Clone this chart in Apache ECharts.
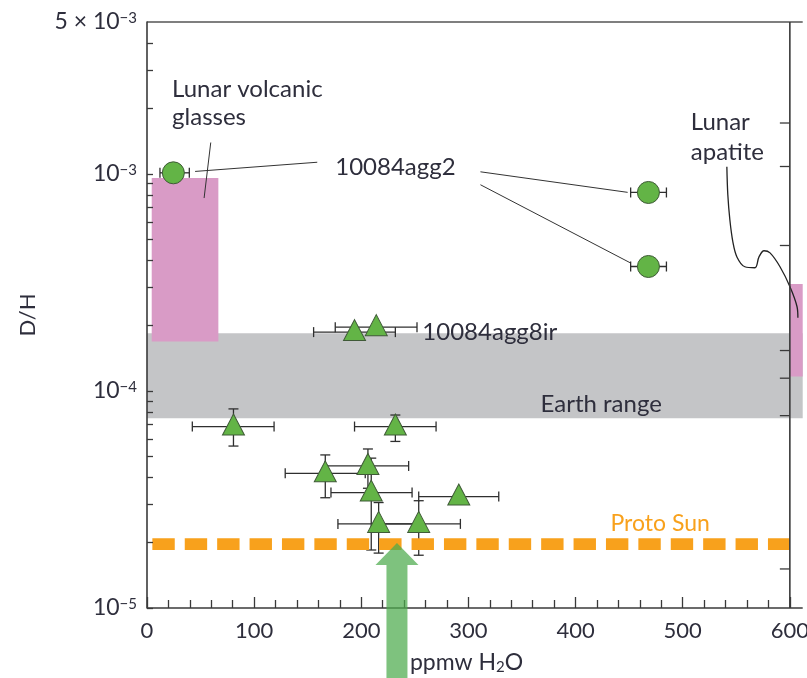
<!DOCTYPE html>
<html>
<head>
<meta charset="utf-8">
<script src="https://cdn.jsdelivr.net/npm/echarts@6/dist/echarts.min.js"></script>
<style>
  html, body { margin: 0; padding: 0; background: #ffffff; }
  #chart { width: 807px; height: 678px; }
</style>
</head>
<body>
<div id="chart"></div>
<script>
// ---------- axes ----------
const xMajorTicks = [0, 100, 200, 300, 400, 500, 600];
const panelEdgeX = 612;          // right edge of this panel
const panelDividerX = 600;       // boundary with the neighbouring panel
const yMin = 1e-5;
const yMax = 5e-3;
const yTickValues = [1e-5, 2e-5, 3e-5, 4e-5, 5e-5, 6e-5, 7e-5, 8e-5, 9e-5,
                     1e-4, 2e-4, 3e-4, 4e-4, 5e-4, 6e-4, 7e-4, 8e-4, 9e-4,
                     1e-3, 2e-3, 3e-3, 4e-3];
const yLabelValues = [1e-5, 1e-4, 1e-3, 5e-3];
const dividerTicks = [1.713e-3, 1.080e-3, 4.673e-4, 1.534e-4, 1.144e-4, 7.69e-5, 1.513e-5];

// ---------- 10084agg2 (circles) ----------
const aggX = [24.6, 468, 468];
const aggY = [1.01e-3, 8.2e-4, 3.74e-4];
const aggXLow = [12.1, 451.4, 451.4];
const aggXHigh = [39.5, 484.8, 484.8];

// ---------- 10084agg8ir (triangles) ----------
const triX = [193.7, 214, 80.7, 231.8, 166.4, 206.2, 209.3, 291, 216.2, 253.6];
const triY = [1.865e-4, 1.966e-4, 6.85e-5, 6.85e-5, 4.17e-5, 4.51e-5, 3.40e-5, 3.26e-5, 2.44e-5, 2.44e-5];
const triXLow = [155.5, 175.7, 42.3, 193.7, 129, 166.4, 171.7, 253.6, 178.2, 214.7];
const triXHigh = [231.8, 252, 118.6, 269.8, 203.7, 244.2, 247.4, 328.3, 254.2, 292.5];
const triYLow = [1.72e-4, null, 5.57e-5, 5.85e-5, 3.22e-5, 3.56e-5, 1.85e-5, null, 1.79e-5, 1.75e-5];
const triYHigh = [null, null, 8.26e-5, 7.74e-5, 5.07e-5, 5.40e-5, 4.90e-5, null, 3.06e-5, 3.12e-5];

// ---------- reference ranges ----------
const earthRangeY = [7.48e-5, 1.845e-4];
const glassRangeX = [4.4, 66.6];
const glassRangeY = [1.69e-4, 9.55e-4];
const apatiteRangeX = [600, 612];
const apatiteRangeY = [1.164e-4, 3.11e-4];
const protoSunDH = 1.97e-5;
const protoSunX = [5, 600];
const bulkWaterX = 233.3;
const bulkWaterDH = 1.99e-5;

// ---------- annotations ----------
const noteText = ['Lunar volcanic', 'glasses', '10084agg2', '10084agg8ir', 'Earth range', 'Lunar', 'apatite'];
const noteX = [23.4, 23.4, 175.7, 257, 367.3, 507.5, 507.5];
const noteY = [2.438e-3, 1.812e-3, 1.066e-3, 1.87e-4, 8.71e-5, 1.718e-3, 1.25e-3];
const protoSunLabel = 'Proto Sun';
const protoSunLabelAt = [432.6, 2.46e-5];
// leader segments: [x1, y1, x2, y2]
const leaders = [
  [59.5, 1.393e-3, 53.3, 7.73e-4],
  [44.9, 1.025e-3, 158.9, 1.13e-3],
  [311.2, 1.021e-3, 448.6, 8.21e-4],
  [311.2, 8.90e-4, 451, 3.89e-4]
];
const apatiteCurveX = [541.2, 542.1, 544.0, 546.8, 550.6, 558.0, 567.4, 571.2, 575.9, 581.5, 590.8, 600.2, 606.7, 607.5];
const apatiteCurveY = [1.077e-3, 8.00e-4, 6.14e-4, 4.86e-4, 4.14e-4, 3.73e-4, 3.69e-4, 4.14e-4, 4.42e-4, 4.32e-4, 3.73e-4, 3.01e-4, 2.44e-4, 2.17e-4];

// ---------- styling ----------
const FONT = 'Lato';
const INK = '#2e2e3c';
const AXIS = '#3a3a3a';
const GREEN = '#63b446';
const MARKER_EDGE = '#3f5a37';
const PINK = '#d99bc6';
const GREY = '#c4c5c7';
const ORANGE = '#f8a11c';

const chart = echarts.init(document.getElementById('chart'), null, { renderer: 'canvas' });

function zip2(a, b) { return a.map((v, i) => [v, b[i]]); }

function supLabel(v) {
  if (Math.abs(v - 5e-3) < 1e-9) return '{b|5 × 10}{s|−3}';
  const e = Math.round(Math.log10(v));
  return '{b|10}{s|−' + Math.abs(e) + '}';
}

function rectItem(x0, x1, y0, y1, color) {
  return function (params, api) {
    const a = api.coord([x0, y1]);
    const b = api.coord([x1, y0]);
    return { type: 'rect', shape: { x: a[0], y: a[1], width: b[0] - a[0], height: b[1] - a[1] },
             style: { fill: color } };
  };
}

function errorBars(params, api) {
  const x = api.value(0), y = api.value(1);
  const xl = api.value(2), xh = api.value(3), yl = api.value(4), yh = api.value(5);
  const cap = 5;
  const st = { stroke: '#2f2f2f', lineWidth: 1.3 };
  const kids = [];
  const c = api.coord([x, y]);
  if (isFinite(xl) && isFinite(xh)) {
    const a = api.coord([xl, y]), b = api.coord([xh, y]);
    kids.push({ type: 'line', shape: { x1: a[0], y1: a[1], x2: b[0], y2: b[1] }, style: st });
    kids.push({ type: 'line', shape: { x1: a[0], y1: a[1] - cap, x2: a[0], y2: a[1] + cap }, style: st });
    kids.push({ type: 'line', shape: { x1: b[0], y1: b[1] - cap, x2: b[0], y2: b[1] + cap }, style: st });
  }
  if (isFinite(yl)) {
    const a = api.coord([x, yl]);
    kids.push({ type: 'line', shape: { x1: c[0], y1: c[1], x2: a[0], y2: a[1] }, style: st });
    kids.push({ type: 'line', shape: { x1: a[0] - cap, y1: a[1], x2: a[0] + cap, y2: a[1] }, style: st });
  }
  if (isFinite(yh)) {
    const a = api.coord([x, yh]);
    kids.push({ type: 'line', shape: { x1: c[0], y1: c[1], x2: a[0], y2: a[1] }, style: st });
    kids.push({ type: 'line', shape: { x1: a[0] - cap, y1: a[1], x2: a[0] + cap, y2: a[1] }, style: st });
  }
  return { type: 'group', children: kids };
}

const aggErr = aggX.map((x, i) => [x, aggY[i], aggXLow[i], aggXHigh[i], null, null]);
const triErr = triX.map((x, i) => [x, triY[i], triXLow[i], triXHigh[i], triYLow[i], triYHigh[i]]);

const option = {
  animation: false,
  backgroundColor: '#ffffff',
  grid: { left: 147, right: -90, top: 22, bottom: 70, outerBoundsMode: 'none', containLabel: false },
  xAxis: {
    type: 'value', min: 0, max: 700, interval: 100,
    axisLine: { show: false },
    axisTick: { show: true, inside: true, length: 11, lineStyle: { color: AXIS, width: 1.3 } },
    minorTick: { show: true, splitNumber: 5, length: 8, lineStyle: { color: AXIS, width: 1.3 } },
    splitLine: { show: false },
    axisLabel: { fontFamily: FONT, fontSize: 22, color: INK, margin: 12,
                 formatter: v => (xMajorTicks.indexOf(v) >= 0 ? String(v) : '') },
    z: 5
  },
  yAxis: {
    type: 'log', logBase: 10, min: yMin, max: yMax,
    axisLine: { show: true, lineStyle: { color: AXIS, width: 1.6 } },
    axisTick: { show: true, inside: true, length: 6, customValues: yTickValues,
                lineStyle: { color: AXIS, width: 1.3 } },
    splitLine: { show: false },
    axisLabel: {
      customValues: yLabelValues, margin: 10, formatter: supLabel,
      rich: {
        b: { fontFamily: FONT, fontSize: 23, color: INK },
        s: { fontFamily: FONT, fontSize: 15, color: INK, verticalAlign: 'top' }
      }
    },
    name: 'D/H', nameLocation: 'middle', nameGap: 108,
    nameTextStyle: { fontFamily: FONT, fontSize: 22, color: INK },
    z: 5
  },
  series: [
    // Earth range band
    { type: 'custom', z: 1, silent: true, clip: false, data: [[0, earthRangeY[0]]],
      renderItem: rectItem(0, panelEdgeX, earthRangeY[0], earthRangeY[1], GREY) },
    // lunar volcanic glass range
    { type: 'custom', z: 1.5, silent: true, data: [[glassRangeX[0], glassRangeY[0]]],
      renderItem: rectItem(glassRangeX[0], glassRangeX[1], glassRangeY[0], glassRangeY[1], PINK) },
    // lunar apatite range
    { type: 'custom', z: 1.5, silent: true, clip: false, data: [[apatiteRangeX[0], apatiteRangeY[0]]],
      renderItem: rectItem(apatiteRangeX[0], apatiteRangeX[1], apatiteRangeY[0], apatiteRangeY[1], PINK) },
    // frame: bottom and top edges, divider to next panel
    { type: 'line', z: 4, silent: true, symbol: 'none', clip: false,
      data: [[0, yMin], [panelEdgeX, yMin]], lineStyle: { color: AXIS, width: 1.6 } },
    { type: 'line', z: 4, silent: true, symbol: 'none', clip: false,
      data: [[0, yMax], [panelEdgeX, yMax]], lineStyle: { color: '#555555', width: 1.4 } },
    { type: 'line', z: 4, silent: true, symbol: 'none', clip: false,
      data: [[panelDividerX, yMin], [panelDividerX, yMax]], lineStyle: { color: AXIS, width: 1.6 } },
    { type: 'custom', z: 4, silent: true, clip: false,
      data: dividerTicks.map(v => [panelDividerX, v]),
      renderItem: (p, api) => {
        const c = api.coord([api.value(0), api.value(1)]);
        return { type: 'line', shape: { x1: c[0] - 10, y1: c[1], x2: c[0], y2: c[1] },
                 style: { stroke: AXIS, lineWidth: 1.3 } };
      } },
    // Proto Sun level
    { type: 'line', z: 3, silent: true, symbol: 'none',
      data: [[protoSunX[0], protoSunDH], [protoSunX[1], protoSunDH]],
      lineStyle: { color: ORANGE, width: 11.7, type: [22.4, 10], cap: 'butt' } },
    // leader lines
    { type: 'custom', z: 3, silent: true, clip: false, data: leaders,
      renderItem: (p, api) => {
        const a = api.coord([api.value(0), api.value(1)]);
        const b = api.coord([api.value(2), api.value(3)]);
        return { type: 'line', shape: { x1: a[0], y1: a[1], x2: b[0], y2: b[1] },
                 style: { stroke: '#333333', lineWidth: 1 } };
      } },
    { type: 'line', z: 3, silent: true, symbol: 'none', smooth: 0.35, clip: false,
      data: zip2(apatiteCurveX, apatiteCurveY), lineStyle: { color: '#222222', width: 1.3 } },
    // error bars
    { type: 'custom', z: 3, silent: true, clip: false, data: aggErr, encode: { x: 0, y: 1 },
      renderItem: errorBars },
    { type: 'custom', z: 3, silent: true, clip: false, data: triErr, encode: { x: 0, y: 1 },
      renderItem: errorBars },
    // markers
    { type: 'scatter', name: '10084agg2', z: 6, symbol: 'circle', symbolSize: 22,
      data: zip2(aggX, aggY),
      itemStyle: { color: GREEN, borderColor: MARKER_EDGE, borderWidth: 1, opacity: 1 } },
    { type: 'scatter', name: '10084agg8ir', z: 6, symbol: 'triangle', symbolSize: [22, 21],
      symbolOffset: [0, -2], data: zip2(triX, triY),
      itemStyle: { color: GREEN, borderColor: MARKER_EDGE, borderWidth: 1, opacity: 1 } },
    // annotation text
    { type: 'custom', z: 7, silent: true, clip: false, data: zip2(noteX, noteY),
      renderItem: (p, api) => {
        const c = api.coord([api.value(0), api.value(1)]);
        return { type: 'text', x: c[0], y: c[1],
                 style: { text: noteText[p.dataIndex], fill: INK, fontFamily: FONT, fontSize: 24,
                          align: 'left', verticalAlign: 'middle' } };
      } },
    { type: 'custom', z: 7, silent: true, clip: false, data: [protoSunLabelAt],
      renderItem: (p, api) => {
        const c = api.coord([api.value(0), api.value(1)]);
        return { type: 'text', x: c[0], y: c[1],
                 style: { text: protoSunLabel, fill: ORANGE, fontFamily: FONT, fontSize: 23,
                          align: 'left', verticalAlign: 'middle' } };
      } },
    // x-axis title, set just right of the arrow shaft
    { type: 'custom', z: 7, silent: true, clip: false, data: [[bulkWaterX, yMin]],
      renderItem: (p, api) => {
        const c = api.coord([api.value(0), api.value(1)]);
        return { type: 'text', x: c[0] + 13, y: c[1] + 55,
                 style: { text: '{t|ppmw H}{u|2}{t|O}', align: 'left', verticalAlign: 'middle',
                          rich: { t: { fontFamily: FONT, fontSize: 23, fill: INK },
                                  u: { fontFamily: FONT, fontSize: 15, fill: INK, verticalAlign: 'bottom' } } } };
      } },
    // bulk water arrow
    { type: 'custom', z: 10, silent: true, clip: false, data: [[bulkWaterX, bulkWaterDH]],
      renderItem: (p, api) => {
        const t = api.coord([api.value(0), api.value(1)]);
        const h = api.getHeight();
        const head = 22, hw = 21.5, sw = 10.5;
        return { type: 'polygon',
                 shape: { points: [[t[0], t[1]], [t[0] + hw, t[1] + head], [t[0] + sw, t[1] + head],
                                   [t[0] + sw, h], [t[0] - sw, h], [t[0] - sw, t[1] + head],
                                   [t[0] - hw, t[1] + head]] },
                 style: { fill: 'rgba(76,170,76,0.72)' } };
      } }
  ]
};

chart.setOption(option);
</script>
</body>
</html>
